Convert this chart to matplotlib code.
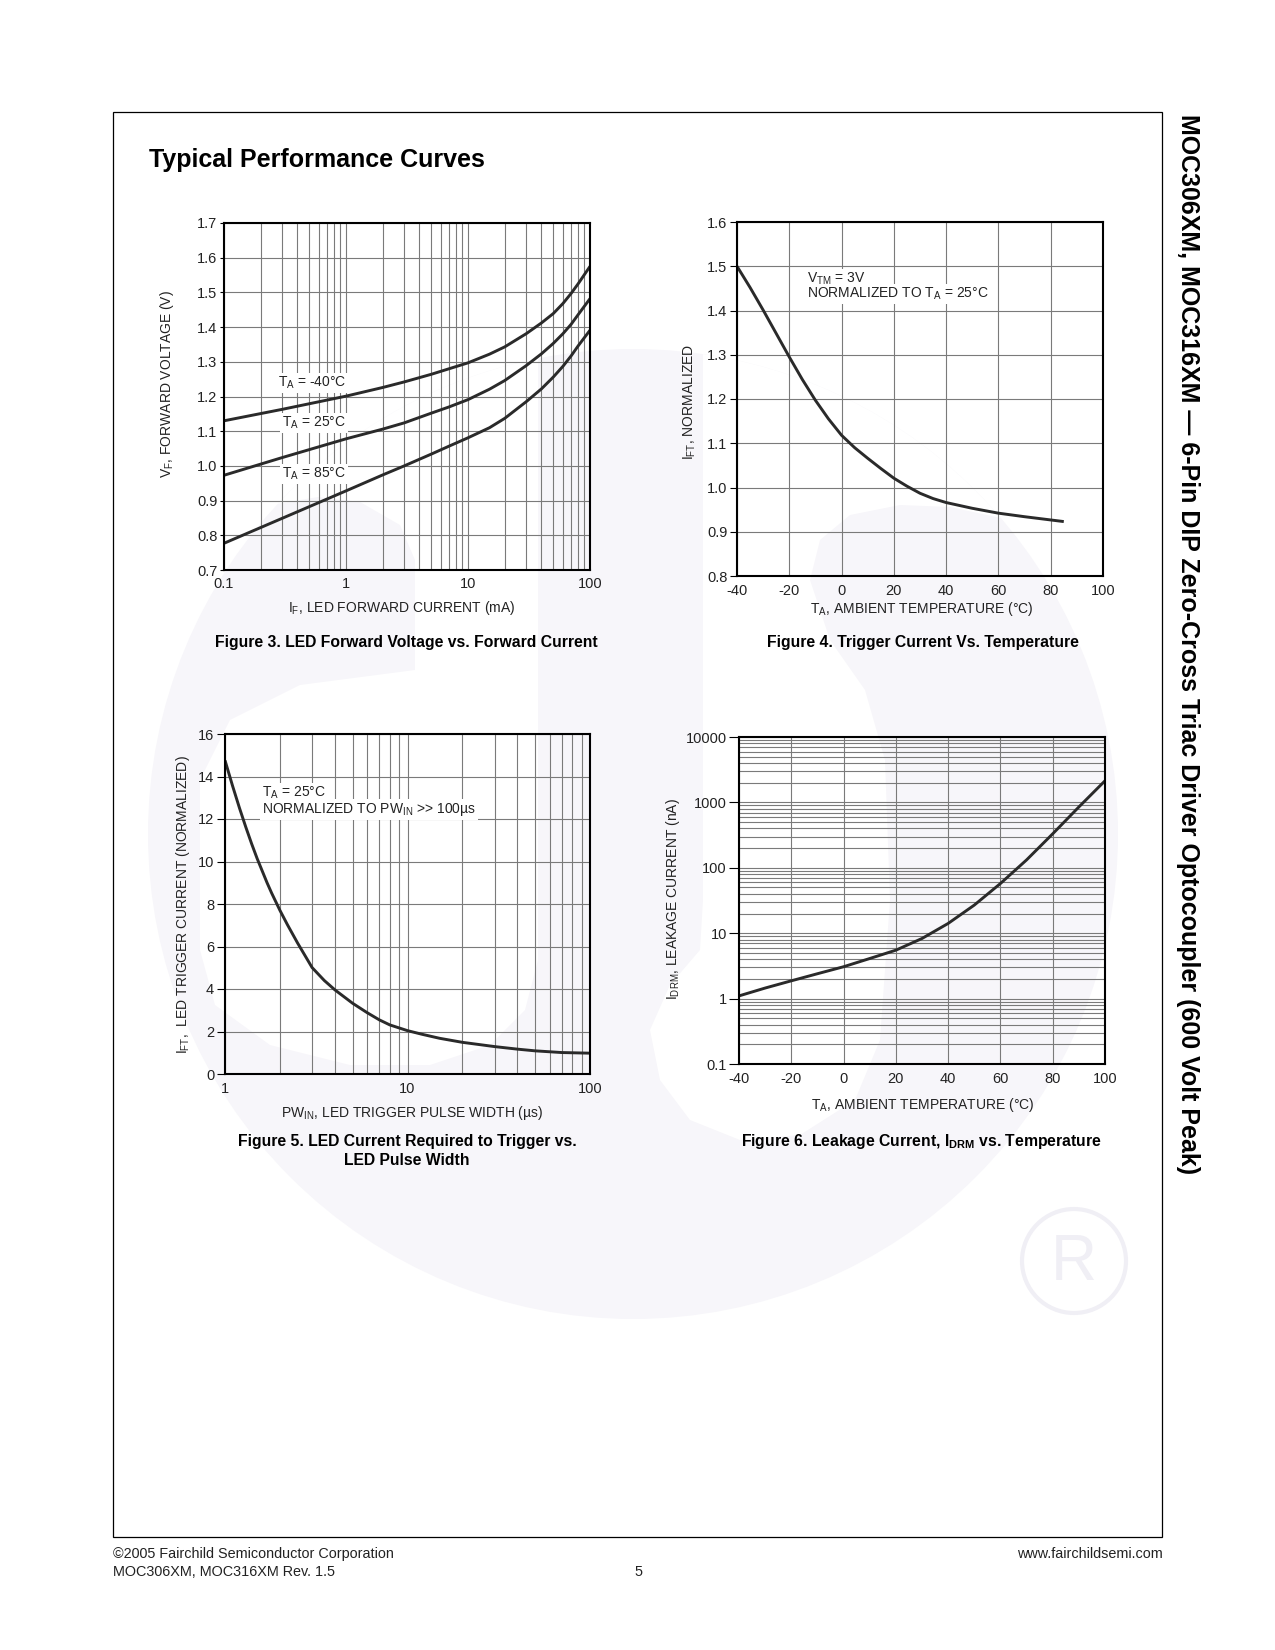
import matplotlib
matplotlib.use('Agg')
import matplotlib.pyplot as plt
import numpy as np
from matplotlib.patches import Circle, Polygon, Rectangle
from matplotlib.ticker import LogLocator, NullFormatter

plt.rcParams['font.family'] = ['Liberation Sans', 'DejaVu Sans']
plt.rcParams['mathtext.fontset'] = 'custom'
plt.rcParams['mathtext.rm'] = 'Liberation Sans'
plt.rcParams['mathtext.it'] = 'Liberation Sans:italic'
plt.rcParams['mathtext.bf'] = 'Liberation Sans:bold'
plt.rcParams['axes.unicode_minus'] = False

# ---------------- data ----------------
# Figure 3: LED forward voltage vs forward current
if_ma = [0.1, 0.3, 1, 2, 3, 5, 7, 10, 15, 20, 30, 40, 50, 60, 70, 80, 100]
vf_m40 = [1.130, 1.163, 1.201, 1.226, 1.242, 1.264, 1.280, 1.297, 1.322, 1.343, 1.381, 1.412,
          1.439, 1.468, 1.497, 1.525, 1.575]
vf_25 = [0.973, 1.024, 1.078, 1.106, 1.124, 1.152, 1.170, 1.191, 1.221, 1.246, 1.289, 1.323,
         1.353, 1.381, 1.408, 1.436, 1.482]
vf_85 = [0.777, 0.849, 0.928, 0.974, 1.000, 1.034, 1.057, 1.081, 1.110, 1.137, 1.185, 1.222,
         1.256, 1.287, 1.317, 1.346, 1.391]
fig3_labels = ['T$_\\mathrm{A}$ = -40°C', 'T$_\\mathrm{A}$ = 25°C', 'T$_\\mathrm{A}$ = 85°C']

# Figure 4: trigger current vs temperature
temp4 = [-40, -35, -30, -25, -20, -15, -10, -5, 0, 5, 10, 15, 20, 25, 30, 35, 40, 50, 60, 70, 85]
ift4 = [1.500, 1.452, 1.401, 1.348, 1.295, 1.244, 1.197, 1.155, 1.118, 1.090, 1.066, 1.043,
        1.021, 1.003, 0.987, 0.975, 0.966, 0.953, 0.942, 0.934, 0.923]

# Figure 5: LED trigger current vs pulse width
pw5 = [1, 1.1, 1.2, 1.3, 1.4, 1.5, 1.7, 1.8, 2, 2.2, 2.5, 3, 3.5, 4, 5, 6, 7, 8, 10, 12, 15,
       20, 30, 40, 50, 70, 100]
ift5 = [14.76, 13.56, 12.52, 11.62, 10.83, 10.14, 9.0, 8.52, 7.70, 7.02, 6.16, 5.01, 4.4, 3.96,
        3.33, 2.89, 2.55, 2.31, 2.04, 1.87, 1.68, 1.49, 1.29, 1.17, 1.09, 1.01, 0.98]

# Figure 6: leakage current vs temperature
temp6 = [-40, -30, -20, -10, 0, 10, 20, 30, 40, 50, 60, 70, 80, 90, 100]
idrm6 = [1.1, 1.45, 1.87, 2.4, 3.07, 4.1, 5.5, 8.3, 14.1, 26.9, 57.5, 132, 331, 851, 2140]

fig3_xticks = [0.1, 1, 10, 100]
fig3_xticklabels = ['0.1', '1', '10', '100']
fig3_yticks = [0.7, 0.8, 0.9, 1.0, 1.1, 1.2, 1.3, 1.4, 1.5, 1.6, 1.7]
fig4_xticks = [-40, -20, 0, 20, 40, 60, 80, 100]
fig4_yticks = [0.8, 0.9, 1.0, 1.1, 1.2, 1.3, 1.4, 1.5, 1.6]
fig5_xticks = [1, 10, 100]
fig5_yticks = [0, 2, 4, 6, 8, 10, 12, 14, 16]
fig6_xticks = [-40, -20, 0, 20, 40, 60, 80, 100]
fig6_yticks = [0.1, 1, 10, 100, 1000, 10000]
fig6_yticklabels = ['0.1', '1', '10', '100', '1000', '10000']

# ---------------- figure ----------------
W, H = 1275, 1650
fig = plt.figure(figsize=(W / 100, H / 100), dpi=100)


def rect(x0, y0, x1, y1):
    return [x0 / W, 1 - y1 / H, (x1 - x0) / W, (y1 - y0) / H]


def T(x, y, s, **kw):
    return fig.text(x / W, 1 - y / H, s, **kw)


# background: watermark + page border
bg = fig.add_axes([0, 0, 1, 1], zorder=-10)
bg.set_xlim(0, W)
bg.set_ylim(H, 0)
bg.axis('off')
lav = '#f7f6fa'
disk = Circle((633, 834), 485, fc=lav, ec='none')
bg.add_patch(disk)
w1 = Polygon([(100, 250), (538, 250), (538, 960), (525, 1010), (490, 1045), (430, 1065), (350, 1065),
              (270, 1045), (215, 1005), (200, 950), (200, 780), (230, 720), (300, 685), (415, 670),
              (415, 560), (400, 525), (360, 502), (318, 497), (270, 505), (230, 530), (200, 565),
              (160, 610), (100, 640)], closed=True, fc='white', ec='none')
w2 = Polygon([(703, 250), (1250, 250), (1250, 480), (1010, 520), (950, 507), (900, 505), (850, 515),
              (820, 540), (810, 580), (830, 640), (865, 690), (885, 760), (890, 900), (880, 1040),
              (855, 1100), (800, 1135), (740, 1140), (690, 1120), (660, 1080), (650, 1030), (670, 985),
              (700, 950), (703, 900)], closed=True, fc='white', ec='none')
for p in (w1, w2):
    bg.add_patch(p)
    p.set_clip_path(disk)
bg.add_patch(Circle((1074, 1261), 52, fc='none', ec='#f0eff5', lw=3))
bg.text(1074, 1263, 'R', ha='center', va='center', fontsize=46, color='#f0eff5')
bg.add_patch(Rectangle((113, 112), 1162 - 113, 1537 - 112, fc='none', ec='black', lw=0.9))

grid_kw = dict(color='#7a7a7a', linewidth=0.8)
curve_kw = dict(color='#2a2a2a', linewidth=2.1, solid_joinstyle='round', solid_capstyle='butt')
txt = '#222222'


def style(ax, ylen, xpad):
    ax.set_facecolor('none')
    for s in ax.spines.values():
        s.set_linewidth(1.5)
        s.set_color('black')
    ax.tick_params(axis='y', which='major', direction='out', length=ylen, width=0.8, pad=1.8,
                   labelsize=10.5, labelcolor=txt, color='black')
    ax.tick_params(axis='x', which='major', length=0, pad=xpad, labelsize=10.5, labelcolor=txt)
    ax.tick_params(which='minor', length=0)
    ax.set_axisbelow(True)


cap_fs = 11.3

# ---- Figure 3 ----
ax3 = fig.add_axes(rect(224, 223, 590, 570))
ax3.set_xscale('log')
ax3.set_xlim(0.1, 100)
ax3.set_ylim(0.7, 1.7)
ax3.set_xticks(fig3_xticks)
ax3.set_xticklabels(fig3_xticklabels)
ax3.xaxis.set_minor_locator(LogLocator(base=10, subs=np.arange(2, 10)))
ax3.xaxis.set_minor_formatter(NullFormatter())
ax3.set_yticks(fig3_yticks)
ax3.set_yticklabels(['%.1f' % v for v in fig3_yticks])
style(ax3, 3, 5)
ax3.grid(True, which='both', axis='x', **grid_kw)
ax3.grid(True, which='major', axis='y', **grid_kw)
for v in (vf_m40, vf_25, vf_85):
    ax3.plot(if_ma, v, **curve_kw)
lab_box = dict(fc='white', ec='none', pad=1.5)
T(278, 387, fig3_labels[0], fontsize=10, color=txt, va='baseline', bbox=lab_box)
T(282, 427, fig3_labels[1], fontsize=10, color=txt, va='baseline', bbox=lab_box)
T(282, 478, fig3_labels[2], fontsize=10, color=txt, va='baseline', bbox=lab_box)
T(167, 384, 'V$_\\mathrm{F}$, FORWARD VOLTAGE (V)', rotation=90, ha='center', va='center', fontsize=10, color=txt)
T(402, 612, 'I$_\\mathrm{F}$, LED FORWARD CURRENT (mA)', ha='center', va='baseline', fontsize=10, color=txt)
T(406, 647, 'Figure 3. LED Forward Voltage vs. Forward Current', ha='center', va='baseline',
  fontsize=cap_fs, fontweight='bold', color='black')

# ---- Figure 4 ----
ax4 = fig.add_axes(rect(737, 222, 1103, 576))
ax4.set_xlim(-40, 100)
ax4.set_ylim(0.8, 1.6)
ax4.set_xticks(fig4_xticks)
ax4.set_yticks(fig4_yticks)
ax4.set_yticklabels(['%.1f' % v for v in fig4_yticks])
style(ax4, 5, 5.8)
ax4.grid(True, which='major', **grid_kw)
ax4.plot(temp4, ift4, **curve_kw)
T(807, 283, 'V$_\\mathrm{TM}$ = 3V', fontsize=10, color=txt, va='baseline', bbox=lab_box)
T(807, 298, 'NORMALIZED TO T$_\\mathrm{A}$ = 25°C', fontsize=10, color=txt, va='baseline', bbox=lab_box)
T(690, 402, 'I$_\\mathrm{FT}$, NORMALIZED', rotation=90, ha='center', va='center', fontsize=10, color=txt)
T(922, 613, 'T$_\\mathrm{A}$, AMBIENT TEMPERATURE (°C)', ha='center', va='baseline', fontsize=10, color=txt)
T(923, 647, 'Figure 4. Trigger Current Vs. Temperature', ha='center', va='baseline',
  fontsize=cap_fs, fontweight='bold', color='black')

# ---- Figure 5 ----
ax5 = fig.add_axes(rect(225, 734, 590, 1074))
ax5.set_xscale('log')
ax5.set_xlim(1, 100)
ax5.set_ylim(0, 16)
ax5.set_xticks(fig5_xticks)
ax5.set_xticklabels([str(v) for v in fig5_xticks])
ax5.xaxis.set_minor_locator(LogLocator(base=10, subs=np.arange(2, 10)))
ax5.xaxis.set_minor_formatter(NullFormatter())
ax5.set_yticks(fig5_yticks)
style(ax5, 6, 5.8)
ax5.grid(True, which='both', axis='x', **grid_kw)
ax5.grid(True, which='major', axis='y', **grid_kw)
ax5.plot(pw5, ift5, **curve_kw)
T(262, 797, 'T$_\\mathrm{A}$ = 25°C', fontsize=10, color=txt, va='baseline', bbox=lab_box)
T(262, 813, 'NORMALIZED TO PW$_\\mathrm{IN}$ >> 100µs', fontsize=10, color=txt, va='baseline', bbox=lab_box)
T(183, 905, 'I$_\\mathrm{FT}$,  LED TRIGGER CURRENT (NORMALIZED)', rotation=90, ha='center', va='center',
  fontsize=10, color=txt)
T(412, 1117, 'PW$_\\mathrm{IN}$, LED TRIGGER PULSE WIDTH (µs)', ha='center', va='baseline', fontsize=10, color=txt)
T(407, 1146, 'Figure 5. LED Current Required to Trigger vs.', ha='center', va='baseline',
  fontsize=cap_fs, fontweight='bold', color='black')
T(407, 1165, 'LED Pulse Width', ha='center', va='baseline', fontsize=cap_fs, fontweight='bold', color='black')

# ---- Figure 6 ----
ax6 = fig.add_axes(rect(739, 737, 1105, 1064))
ax6.set_yscale('log')
ax6.set_xlim(-40, 100)
ax6.set_ylim(0.1, 10000)
ax6.set_xticks(fig6_xticks)
ax6.set_yticks(fig6_yticks)
ax6.set_yticklabels(fig6_yticklabels)
ax6.yaxis.set_minor_locator(LogLocator(base=10, subs=np.arange(2, 10)))
ax6.yaxis.set_minor_formatter(NullFormatter())
style(ax6, 7, 5.8)
ax6.grid(True, which='both', axis='y', **grid_kw)
ax6.grid(True, which='major', axis='x', **grid_kw)
ax6.plot(temp6, idrm6, **curve_kw)
T(673, 899, 'I$_\\mathrm{DRM}$, LEAKAGE CURRENT (nA)', rotation=90, ha='center', va='center', fontsize=10, color=txt)
T(923, 1109, 'T$_\\mathrm{A}$, AMBIENT TEMPERATURE (°C)', ha='center', va='baseline', fontsize=10, color=txt)
T(921, 1146, 'Figure 6. Leakage Current, I$_\\mathbf{DRM}$ vs. Temperature', ha='center', va='baseline',
  fontsize=cap_fs, fontweight='bold', color='black')

# ---- page texts ----
T(149, 167, 'Typical Performance Curves', fontsize=18, fontweight='bold', va='baseline', color='black')
T(1188, 114, 'MOC306XM, MOC316XM — 6-Pin DIP Zero-Cross Triac Driver Optocoupler (600 Volt Peak)',
  rotation=270, ha='center', va='top', fontsize=18, fontweight='bold', color='black')
T(113, 1558, '©2005 Fairchild Semiconductor Corporation', fontsize=10.4, va='baseline', color=txt)
T(113, 1576, 'MOC306XM, MOC316XM Rev. 1.5', fontsize=10.4, va='baseline', color=txt)
T(638, 1576, '5', fontsize=10.4, ha='center', va='baseline', color=txt)
T(1163, 1558, 'www.fairchildsemi.com', fontsize=10.4, ha='right', va='baseline', color=txt)

fig.savefig('out.png', dpi=100)
